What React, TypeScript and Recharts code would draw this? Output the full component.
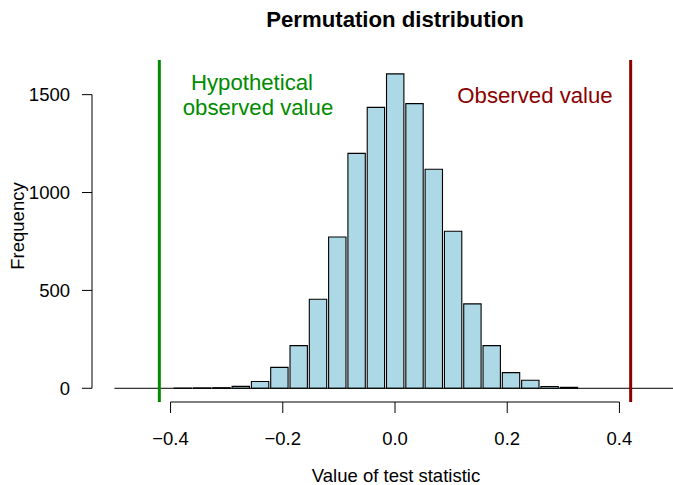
import { ComposedChart, Bar, XAxis, YAxis, ReferenceLine } from 'recharts';

// histogram bins (centres) and counts
const binMids = [
  -0.3781, -0.3437, -0.3093, -0.2749, -0.2405, -0.2061, -0.1717, -0.1373, -0.1029, -0.0685, -0.0341,
  0.0003, 0.0347, 0.0691, 0.1035, 0.1379, 0.1723, 0.2067, 0.2411, 0.2755, 0.3099,
];
const counts = [1, 2, 3, 10, 35, 107, 218, 455, 773, 1200, 1435, 1606, 1454, 1119, 802, 431, 218, 80, 41, 9, 5];

const xTicks = [-0.4, -0.2, 0, 0.2, 0.4];
const yTicks = [0, 500, 1000, 1500];
const hypotheticalValue = -0.42;
const observedValue = 0.42;

const data = binMids.map((mid, i) => ({ mid, count: counts[i] }));

const font = '"Liberation Sans", Arial, Helvetica, sans-serif';
const baseSize = 18.5;
const bigSize = 22.2;
const binWidth = 0.0344;
const X_DOMAIN: [number, number] = [-0.54, 0.54];
const Y_DOMAIN: [number, number] = [-70, 1677];
const CHART_W = 698;
const CHART_H = 485;
const X_AXIS_H = 50;
const Y_AXIS_W = 60;
// plot area: x 92..698, y 60..402
const margin = { top: 60, right: 0, bottom: 83 - X_AXIS_H, left: 92 - Y_AXIS_W };
const pxPerX = (CHART_W - 92) / (X_DOMAIN[1] - X_DOMAIN[0]);

const fmtX = (v: number) => v.toFixed(1).replace('-', '\u2212');
const tickStyle = { fontSize: baseSize, fontFamily: font, fill: '#000' };

export default function App() {
  return (
    <div
      style={{
        position: 'absolute',
        left: 0,
        top: 0,
        width: 673,
        height: 485,
        overflow: 'hidden',
        background: '#fff',
      }}
    >
      <ComposedChart width={CHART_W} height={CHART_H} data={data} margin={margin}>
        <XAxis
          dataKey="mid"
          type="number"
          domain={X_DOMAIN}
          allowDataOverflow
          ticks={xTicks}
          tickFormatter={fmtX}
          height={X_AXIS_H}
          axisLine={false}
          tickLine={{ stroke: '#000', strokeWidth: 1 }}
          tickSize={11}
          tickMargin={19}
          tick={tickStyle}
          interval={0}
        />
        <YAxis
          type="number"
          domain={Y_DOMAIN}
          allowDataOverflow
          ticks={yTicks}
          width={Y_AXIS_W}
          axisLine={false}
          tickLine={{ stroke: '#000', strokeWidth: 1 }}
          tickSize={10}
          tickMargin={12}
          tick={tickStyle}
          interval={0}
        />
        <ReferenceLine
          segment={[{ x: -0.5, y: 0 }, { x: 0.5, y: 0 }]}
          stroke="#000"
          strokeWidth={1}
        />
        <Bar
          dataKey="count"
          fill="#ADD8E6"
          stroke="#000"
          strokeWidth={1.1}
          barSize={binWidth * pxPerX}
          isAnimationActive={false}
        />
        {/* R-style axis lines, only as long as the tick range */}
        <ReferenceLine
          segment={[{ x: xTicks[0], y: Y_DOMAIN[0] }, { x: xTicks[xTicks.length - 1], y: Y_DOMAIN[0] }]}
          stroke="#000"
          strokeWidth={1}
        />
        <ReferenceLine
          segment={[{ x: X_DOMAIN[0], y: yTicks[0] }, { x: X_DOMAIN[0], y: yTicks[yTicks.length - 1] }]}
          stroke="#000"
          strokeWidth={1}
        />
        <ReferenceLine x={hypotheticalValue} stroke="#008B00" strokeWidth={3} />
        <ReferenceLine x={observedValue} stroke="#8B0000" strokeWidth={3} />
      </ComposedChart>
      <svg
        width={673}
        height={485}
        style={{ position: 'absolute', left: 0, top: 0, pointerEvents: 'none' }}
        fontFamily={font}
      >
        <text x={395} y={27} textAnchor="middle" fontSize={bigSize} fontWeight="bold" fill="#000">
          Permutation distribution
        </text>
        <text x={396} y={482} textAnchor="middle" fontSize={baseSize} fill="#000">
          Value of test statistic
        </text>
        <text x={24} y={226} textAnchor="middle" fontSize={baseSize} fill="#000" transform="rotate(-90 24 226)">
          Frequency
        </text>
        <text x={252} y={90} textAnchor="middle" fontSize={bigSize} fill="#008B00">
          Hypothetical
        </text>
        <text x={258} y={115} textAnchor="middle" fontSize={bigSize} fill="#008B00">
          observed value
        </text>
        <text x={535} y={103} textAnchor="middle" fontSize={bigSize} fill="#8B0000">
          Observed value
        </text>
      </svg>
    </div>
  );
}
